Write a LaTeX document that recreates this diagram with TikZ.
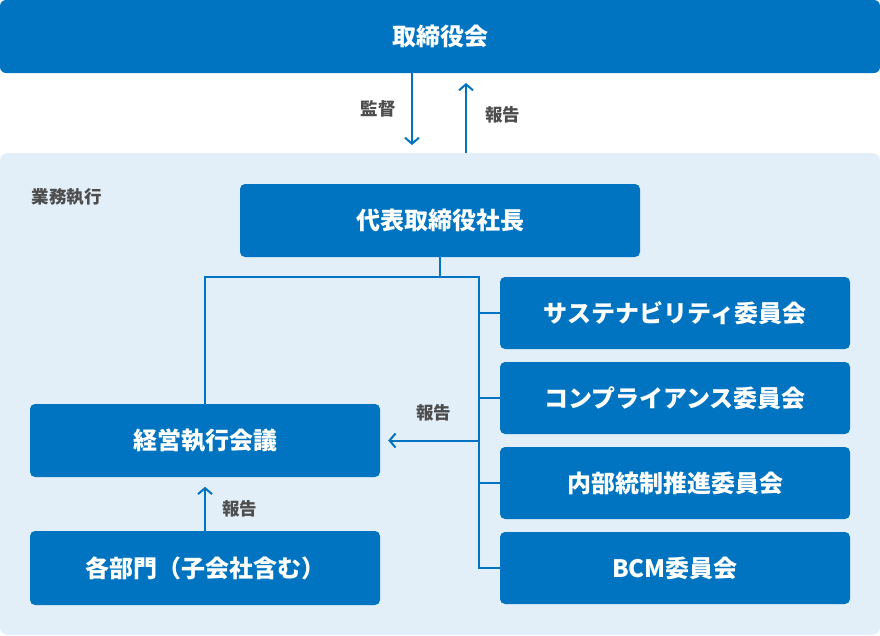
\documentclass[tikz,border=0pt]{standalone}
\usepackage{fontspec}
\setmainfont{Noto Sans CJK JP}
\usetikzlibrary{arrows.meta,positioning}

\definecolor{orgblue}{HTML}{0074C1}
\definecolor{orgback}{HTML}{E3EFF8}
\definecolor{orggray}{HTML}{4D4D4D}

\tikzset{
  box/.style={fill=orgblue,rounded corners=5pt,text=white,inner sep=0pt,
    minimum width=350pt,minimum height=73pt,font=\fontsize{24}{28}\selectfont\bfseries},
  lbl/.style={text=orggray,font=\fontsize{17.5}{21}\selectfont\bfseries},
  link/.style={draw=orgblue,line width=2pt}
}

\begin{document}
\begin{tikzpicture}[x=1pt,y=-1pt,>={Straight Barb[length=6pt,width=14pt]},node distance=85pt]
\useasboundingbox (0,0) rectangle (880,635);
\fill[orgback,rounded corners=8pt] (0,153) rectangle (880,635);

\node[box,minimum width=880pt,rounded corners=6pt] (board) at (440,36.5) {取締役会};
\node[lbl,anchor=west] (area) at (28,197) {業務執行};
\node[box,minimum width=400pt] (ceo) at (440,220.5) {代表取締役社長};

\node[box,minimum height=72pt] (c1) at (675,313) {サステナビリティ委員会};
	\node[box,minimum height=72pt] (c2) [below of=c1] {コンプライアンス委員会};
	\node[box,minimum height=72pt] (c3) [below of=c2] {内部統制推進委員会};
	\node[box,minimum height=72pt] (c4) [below of=c3] {BCM委員会};

\node[box] (mtg) at (205,440.5) {経営執行会議};
\node[box,minimum height=74pt] (dept) at (205,568) {各部門（子会社含む）};

% board <-> executive area
\coordinate (down1) at (412,73);
\coordinate (down2) at (412,145);
\coordinate (up1) at (466,153);
\coordinate (up2) at (466,83);
\draw[link,->] (down1) -- (down2) node[lbl,midway,left=12pt] {監督};
\draw[link,->] (up1) -- (up2) node[lbl,pos=0.55,right=15pt] {報告};

% tree
\coordinate (bus) at (479,277);
\draw[link] (ceo.south) -- (ceo.south |- bus);
\draw[link] (mtg.north) |- (bus) |- (c4.west);
\foreach \c in {c1,c2,c3}
  \draw[link] (\c.west -| bus) -- (\c.west);

\draw[link,->] (mtg.east -| bus) -- ([xshift=8pt]mtg.east)
  node[lbl,midway,above=15pt] {報告};
\draw[link,->] (dept.north) -- ([yshift=44pt]dept.north)
  node[lbl,midway,right=13pt] {報告};

\end{tikzpicture}
\end{document}
